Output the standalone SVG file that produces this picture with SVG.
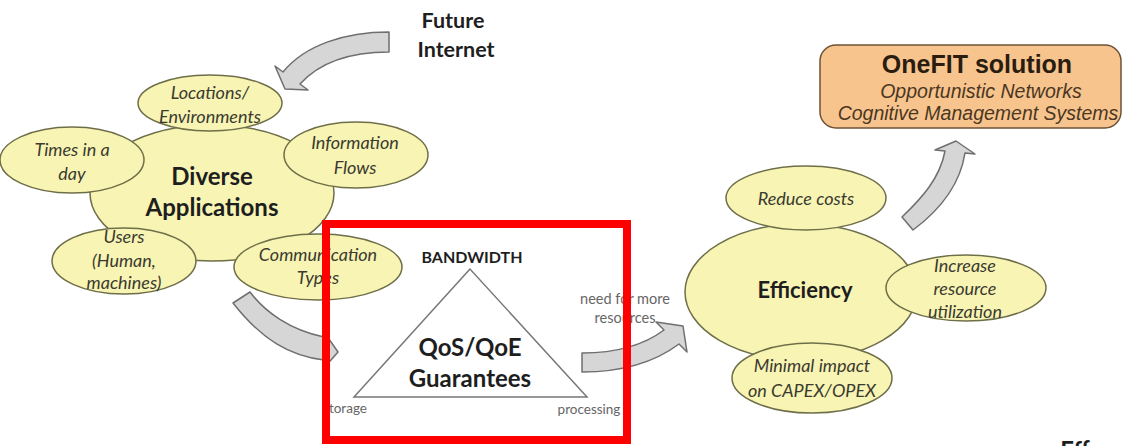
<svg xmlns="http://www.w3.org/2000/svg" width="1123" height="446" viewBox="0 0 1123 446">
  <style>
    .bg { fill: #ffffff; }
    .bubble { fill: #f8f4b4; stroke: #6e6e48; stroke-width: 1.5; }
    .flow { fill: #d6d6d6; stroke: #6f6f6f; stroke-width: 1.5; stroke-linejoin: round; }
    .lbl { font-family: Lato, "Open Sans", "Liberation Sans", sans-serif; font-style: italic; font-size: 18px; fill: #3a3a30; text-anchor: middle; }
    .hub { font-family: Lato, "Open Sans", "Liberation Sans", sans-serif; font-weight: bold; fill: #1e1e1e; text-anchor: middle; }
    .note { font-family: Lato, "Open Sans", "Liberation Sans", sans-serif; fill: #666666; text-anchor: middle; }
    .box { fill: #f8c48e; stroke: #6e5236; stroke-width: 1.5; }
    .boxtitle { font-family: "Liberation Sans", Arial, sans-serif; font-weight: bold; font-size: 25px; fill: #2a1d10; text-anchor: middle; }
    .boxsub { font-family: "Liberation Sans", Arial, sans-serif; font-style: italic; font-size: 19.5px; fill: #4a3722; text-anchor: middle; }
    .frame { fill: none; stroke: #ff0000; stroke-width: 8; }
  </style>

  <rect class="bg" x="0" y="0" width="1123" height="446"/>

  <!-- flow arrows -->
  <g id="connectors">
    <path class="flow" d="M389,32 C345,32 305,45 283,72 L275,66 L285,89 L308,90 L300,84 C320,62 350,52 389,52 Z"/>
    <path class="flow" d="M233,303 L250,292 C265,312 290,330 324,337 L324,332 L338,352 L324,368 L324,360 C290,356 262,340 233,303 Z"/>
    <path class="flow" d="M582,353 C610,353 640,348 664,330 L656,322 L683,326 L687,352 L679,344 C655,362 625,372 582,372 Z"/>
    <path class="flow" d="M902,217 C922,198 940,178 945,151 L935,150 L956,141 L975,154 L965,153 C960,185 940,210 913,230 Z"/>
  </g>

  <g id="future-internet">
    <text class="hub" x="453" y="28" font-size="21.5">Future</text>
    <text class="hub" x="456" y="57" font-size="21.5">Internet</text>
  </g>

  <g id="diverse-applications">
    <ellipse class="bubble" cx="212" cy="193" rx="122" ry="68"/>
    <text class="hub" x="212" y="185" font-size="24">Diverse</text>
    <text class="hub" x="212" y="216" font-size="24">Applications</text>
  </g>

  <g id="locations">
    <ellipse class="bubble" cx="210" cy="103" rx="72" ry="28"/>
    <text class="lbl" x="210" y="99">Locations/</text>
    <text class="lbl" x="210" y="123">Environments</text>
  </g>

  <g id="times">
    <ellipse class="bubble" cx="72" cy="160" rx="72" ry="33"/>
    <text class="lbl" x="72" y="156">Times in a</text>
    <text class="lbl" x="72" y="180">day</text>
  </g>

  <g id="information-flows">
    <ellipse class="bubble" cx="356" cy="155" rx="72" ry="33"/>
    <text class="lbl" x="355" y="149">Information</text>
    <text class="lbl" x="355" y="174">Flows</text>
  </g>

  <g id="users">
    <ellipse class="bubble" cx="124" cy="261" rx="72" ry="33"/>
    <text class="lbl" x="124" y="243">Users</text>
    <text class="lbl" x="124" y="267">(Human,</text>
    <text class="lbl" x="124" y="289">machines)</text>
  </g>

  <g id="communication-types">
    <ellipse class="bubble" cx="318" cy="267" rx="84" ry="33"/>
    <text class="lbl" x="318" y="261">Communication</text>
    <text class="lbl" x="318" y="284">Types</text>
  </g>

  <g id="qos-qoe">
    <polygon points="470,269 354,397 587,397" fill="#ffffff" stroke="#777777" stroke-width="1.5"/>
    <text class="hub" x="472" y="263" font-size="16">BANDWIDTH</text>
    <text class="hub" x="470" y="356" font-size="24">QoS/QoE</text>
    <text class="hub" x="470" y="387" font-size="24">Guarantees</text>
    <text class="note" x="345" y="413" font-size="13.5">storage</text>
    <text class="note" x="589" y="414" font-size="13.5">processing</text>
  </g>

  <g id="need-more-resources">
    <text class="note" x="625" y="304" font-size="14.5">need for more</text>
    <text class="note" x="625" y="323" font-size="14.5">resources</text>
  </g>

  <g id="efficiency">
    <ellipse class="bubble" cx="801" cy="292" rx="116" ry="68"/>
    <text class="hub" x="805" y="298" font-size="22">Efficiency</text>
  </g>

  <g id="reduce-costs">
    <ellipse class="bubble" cx="806" cy="198" rx="80" ry="32"/>
    <text class="lbl" x="806" y="205">Reduce costs</text>
  </g>

  <g id="resource-utilization">
    <ellipse class="bubble" cx="966" cy="288" rx="80" ry="33"/>
    <text class="lbl" x="965" y="272">Increase</text>
    <text class="lbl" x="965" y="295">resource</text>
    <text class="lbl" x="965" y="318">utilization</text>
  </g>

  <g id="capex-opex">
    <ellipse class="bubble" cx="812" cy="378" rx="80" ry="35"/>
    <text class="lbl" x="812" y="372">Minimal impact</text>
    <text class="lbl" x="812" y="397">on CAPEX/OPEX</text>
  </g>

  <g id="onefit-solution">
    <rect class="box" x="820" y="45" width="301" height="83" rx="16" ry="16"/>
    <text class="boxtitle" x="977" y="73">OneFIT solution</text>
    <text class="boxsub" x="981" y="98">Opportunistic Networks</text>
    <text class="boxsub" x="978" y="120">Cognitive Management Systems</text>
  </g>

  <!-- heading of the following slide, clipped by the bottom edge -->
  <g id="next-title">
    <text class="hub" x="1075" y="459" font-size="24" text-anchor="start">Eff</text>
  </g>

  <g id="highlight">
    <rect class="frame" x="326" y="224" width="301" height="216"/>
  </g>
</svg>
